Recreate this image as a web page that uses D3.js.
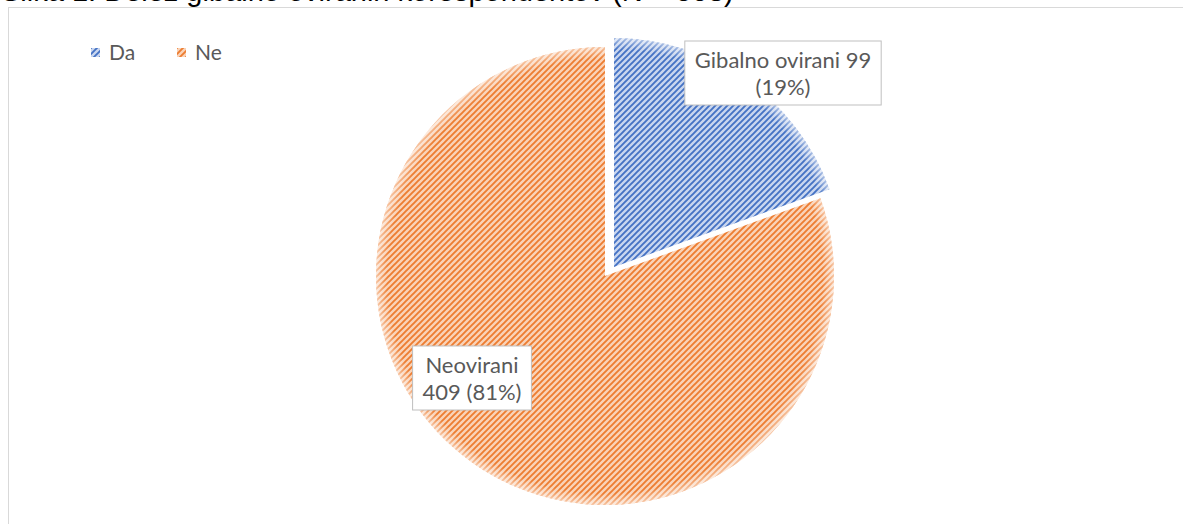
<!DOCTYPE html>
<html>
<head>
<meta charset="utf-8">
<script src="https://cdn.jsdelivr.net/npm/d3@7"></script>
<style>
  body { margin: 0; background: #fff; }
  svg { display: block; }
</style>
</head>
<body>
<svg id="chart"></svg>
<script>
// data
const categories = ['Da', 'Ne']
const labelNames = ['Gibalno ovirani', 'Neovirani']
const values = [99, 409]
const title = 'Slika 1: Delež gibalno oviranih korespondentov (N = 508)'

// look
const width = 1183
const height = 524
const fg = ['#4472C4', '#ED7D31']
const bg = ['#C9D6EF', '#FAD3B7']
const textColor = '#595959'
const labelFont = 'Lato, "Open Sans", sans-serif'
const center = [607, 274]
const radius = 229
const sliceShift = [[7, -7], [-2, 2]]
const labelCenter = [[783, 73], [472, 378]]

const total = d3.sum(values)
const pct = d3.format('.0%')

const svg = d3.select('#chart').attr('width', width).attr('height', height)
const defs = svg.append('defs')

categories.forEach((c, i) => {
  const p = defs.append('pattern')
    .attr('id', 'hatch' + i)
    .attr('patternUnits', 'userSpaceOnUse')
    .attr('width', 6).attr('height', 6)
  p.append('rect').attr('width', 6).attr('height', 6).attr('fill', bg[i])
  p.append('path')
    .attr('d', 'M-1,7 L7,-1 M-4,4 L4,-4 M2,10 L10,2')
    .attr('stroke', fg[i])
    .attr('stroke-width', 1.9)
})

const glow = defs.append('radialGradient').attr('id', 'edge')
  .attr('gradientUnits', 'userSpaceOnUse')
  .attr('cx', 0).attr('cy', 0).attr('r', radius)
glow.append('stop').attr('offset', '0.95').attr('stop-color', '#fff').attr('stop-opacity', 0)
glow.append('stop').attr('offset', '1').attr('stop-color', '#fff').attr('stop-opacity', 0.55)

// chart frame
svg.append('rect')
  .attr('x', 8.5).attr('y', 7.5)
  .attr('width', width + 20).attr('height', height + 20)
  .attr('fill', 'none').attr('stroke', '#d9d9d9')

// caption above the chart, cut by the top edge as in the source
svg.append('text')
  .attr('x', 1).attr('y', 1)
  .attr('font-family', '"Liberation Sans", Arial, sans-serif')
  .attr('font-size', 29)
  .attr('fill', '#000')
  .text(title)

const pie = d3.pie().sort(null).value(d => d)
const arc = d3.arc().innerRadius(0).outerRadius(radius)
const arcs = pie(values)

const slices = svg.append('g').selectAll('g')
  .data(arcs)
  .join('g')
  .attr('transform', (d, i) => `translate(${center[0] + sliceShift[i][0]},${center[1] + sliceShift[i][1]})`)

slices.append('path')
  .attr('d', arc)
  .attr('fill', (d, i) => `url(#hatch${i})`)
slices.append('path')
  .attr('d', arc)
  .attr('fill', 'url(#edge)')

// data labels
const labelLines = [
  [`${labelNames[0]} ${values[0]}`, `(${pct(values[0] / total)})`],
  [labelNames[1], `${values[1]} (${pct(values[1] / total)})`]
]

labelLines.forEach((lines, i) => {
  const g = svg.append('g').attr('transform', `translate(${labelCenter[i][0]},${labelCenter[i][1]})`)
  const box = g.append('rect')
  const t = g.append('text')
    .attr('text-anchor', 'middle')
    .attr('font-family', labelFont)
    .attr('font-size', 22)
    .attr('fill', textColor)
  t.selectAll('tspan').data(lines).join('tspan')
    .attr('x', 0)
    .attr('y', (d, k) => -5 + k * 27)
    .text(d => d)
  const bb = t.node().getBBox()
  box.attr('x', bb.x - 10).attr('y', bb.y - 5)
    .attr('width', bb.width + 20).attr('height', bb.height + 10)
    .attr('fill', '#fff').attr('stroke', '#bfbfbf')
})

// legend
const legend = svg.append('g').selectAll('g')
  .data(categories)
  .join('g')
  .attr('transform', (d, i) => `translate(${91 + i * 86},48)`)
legend.append('rect')
  .attr('width', 9).attr('height', 9)
  .attr('fill', (d, i) => `url(#hatch${i})`)
legend.append('text')
  .attr('x', 18).attr('y', 12)
  .attr('font-family', labelFont)
  .attr('font-size', 21)
  .attr('fill', textColor)
  .text(d => d)
</script>
</body>
</html>
